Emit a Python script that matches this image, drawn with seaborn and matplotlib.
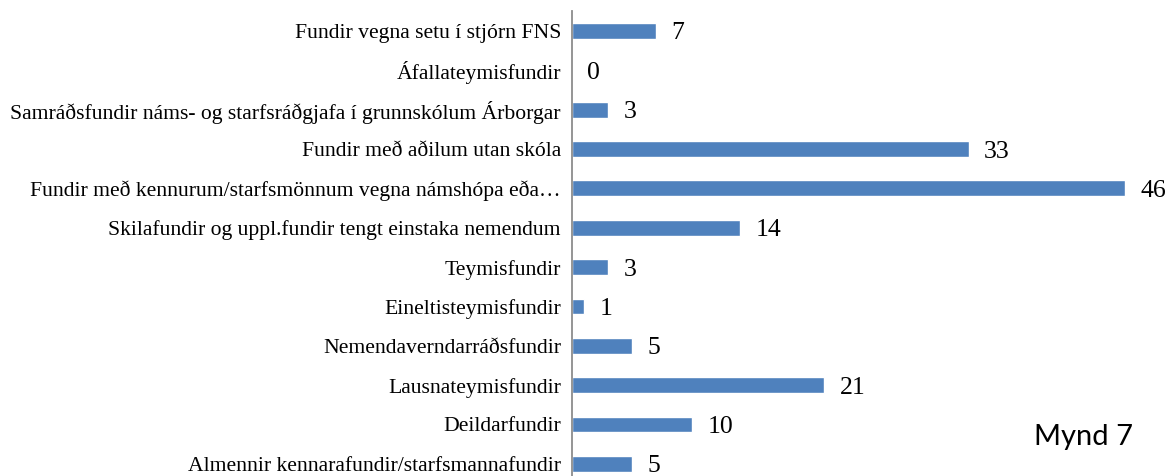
import matplotlib
matplotlib.use("Agg")
import matplotlib.pyplot as plt
import seaborn as sns
import pandas as pd

# flokkar (ofan frá og niður) og fjöldi funda
flokkar = [
    "Fundir vegna setu í stjórn FNS",
    "Áfallateymisfundir",
    "Samráðsfundir náms- og starfsráðgjafa í grunnskólum Árborgar",
    "Fundir með aðilum utan skóla",
    "Fundir með kennurum/starfsmönnum vegna námshópa eða…",
    "Skilafundir og uppl.fundir tengt einstaka nemendum",
    "Teymisfundir",
    "Eineltisteymisfundir",
    "Nemendaverndarráðsfundir",
    "Lausnateymisfundir",
    "Deildarfundir",
    "Almennir kennarafundir/starfsmannafundir",
]
fjoldi = [7, 0, 3, 33, 46, 14, 3, 1, 5, 21, 10, 5]

df = pd.DataFrame({"flokkur": flokkar, "fjoldi": fjoldi})

sns.set_style("white")
plt.rcParams["font.family"] = ["Liberation Serif", "DejaVu Serif"]
plt.rcParams["text.color"] = "black"
plt.rcParams["ytick.color"] = "black"

W, H = 1170, 476
fig = plt.figure(figsize=(W / 100, H / 100), dpi=100)
# ásinn byrjar við x=572 px og nær niður fyrir neðri brún myndar
ax = fig.add_axes([572 / W, 0, 1 - 572 / W, 1 - 11.3 / H])

sns.barplot(data=df, y="flokkur", x="fjoldi", orient="h", color="#4F81BD",
            saturation=1, width=0.40, ax=ax)

ax.set_xlim(0, (W - 572) / 12.02)
ax.set_ylim(11.31, -0.5)
ax.set_xlabel("")
ax.set_ylabel("")
ax.set_xticks([])
ax.tick_params(axis="y", length=0, pad=8, labelsize=15.6, labelcolor="black")

for s in ["top", "right", "bottom"]:
    ax.spines[s].set_visible(False)
ax.spines["left"].set_color("#8c8c8c")
ax.spines["left"].set_linewidth(1.3)

merki = ax.bar_label(ax.containers[0], padding=11, fontsize=18.5, color="black")
for m in merki:
    m.set_va("center_baseline")

fig.text(1084 / W, 1 - 437 / H, "Mynd 7", fontsize=21, family=["Lato", "DejaVu Sans"],
         ha="center", va="center", color="black")

fig.savefig("out.png", dpi=100)
